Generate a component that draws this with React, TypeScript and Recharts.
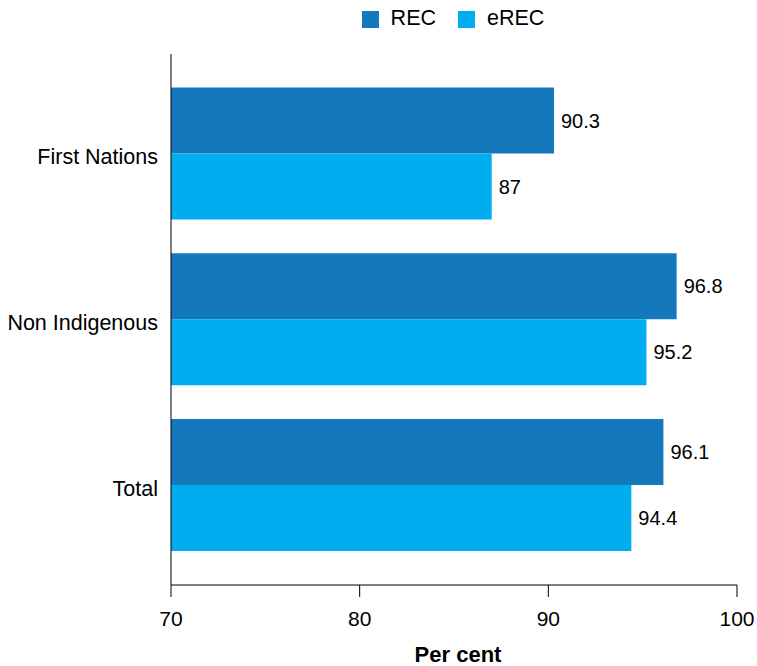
import { Bar, BarChart, LabelList, Legend, XAxis, YAxis } from "recharts";

const categories = ["First Nations", "Non Indigenous", "Total"];
const recValues = [90.3, 96.8, 96.1];
const erecValues = [87, 95.2, 94.4];
const xTicks = [70, 80, 90, 100];

const data = categories.map((name, i) => ({
  name,
  REC: recValues[i],
  eREC: erecValues[i],
}));

const font = "'Liberation Sans', Arial, sans-serif";

export default function App() {
  return (
    <div style={{ position: "absolute", left: 0, top: 0, fontFamily: font }}>
      <BarChart
        width={757}
        height={666}
        data={data}
        layout="vertical"
        margin={{ top: 30, right: 20, bottom: 0, left: 0 }}
        barCategoryGap="10%"
        barGap={0}
      >
        <Legend
          verticalAlign="top"
          align="center"
          iconType="square"
          iconSize={17}
          wrapperStyle={{ fontSize: 21.5, lineHeight: "24px", color: "#000", top: 6, left: 181, width: 566 }}
          formatter={(v) => (
            <span style={{ color: "#000", marginLeft: 8, marginRight: 12 }}>{v}</span>
          )}
        />
        <XAxis
          type="number"
          domain={[70, 100]}
          ticks={xTicks}
          allowDataOverflow
          height={81}
          stroke="#000"
          tickSize={12}
          tickMargin={14}
          tick={{ fill: "#000", fontSize: 21 }}
          label={{
            value: "Per cent",
            position: "insideBottom",
            offset: 4,
            dx: 4,
            fill: "#000",
            fontSize: 22,
            fontWeight: "bold",
          }}
        />
        <YAxis
          type="category"
          dataKey="name"
          width={171}
          stroke="#000"
          tickLine={false}
          tickMargin={7}
          tick={{ fill: "#000", fontSize: 21.5, dy: 3 }}
          padding={{ top: 17, bottom: 17 }}
        />
        <Bar dataKey="REC" fill="#1479BC" isAnimationActive={false}>
          <LabelList dataKey="REC" position="right" offset={7} fill="#000" fontSize={20} />
        </Bar>
        <Bar dataKey="eREC" fill="#00AEEF" isAnimationActive={false}>
          <LabelList dataKey="eREC" position="right" offset={7} fill="#000" fontSize={20} />
        </Bar>
      </BarChart>
    </div>
  );
}
